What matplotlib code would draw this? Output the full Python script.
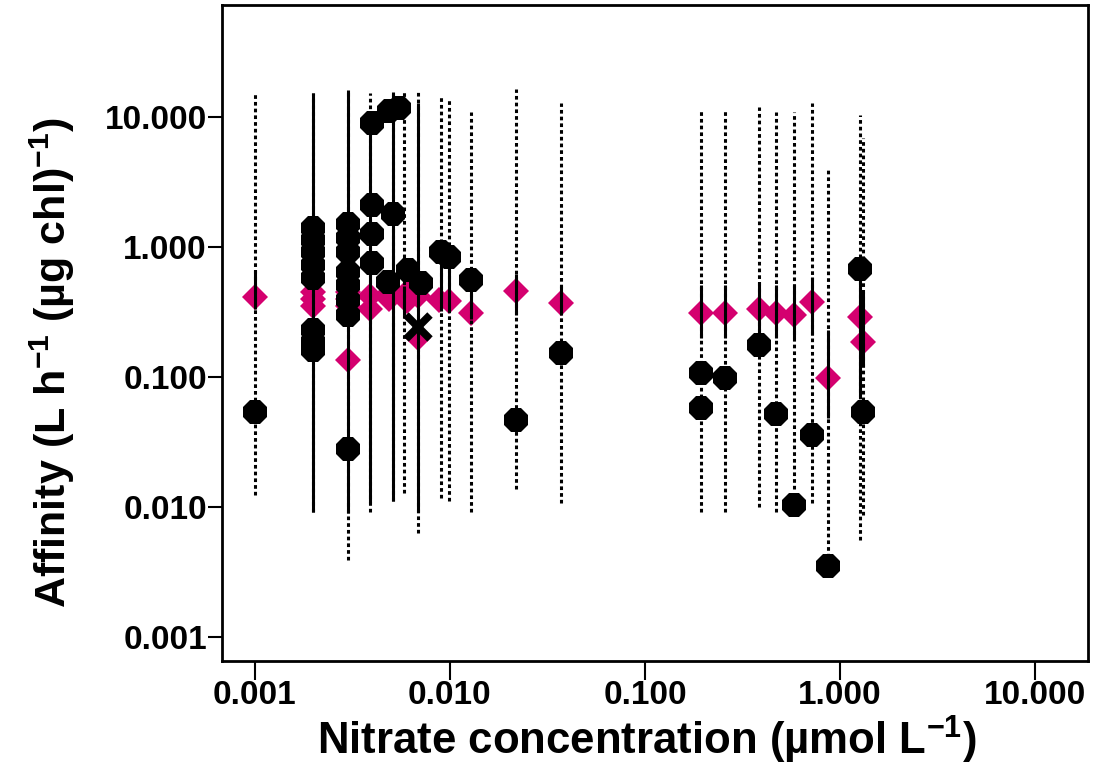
import numpy as np
import matplotlib.pyplot as plt
from matplotlib.ticker import FixedLocator, FuncFormatter

plt.rcParams['font.family'] = ['Liberation Sans Narrow', 'Liberation Sans', 'DejaVu Sans']
plt.rcParams['font.weight'] = 'bold'
plt.rcParams['axes.labelweight'] = 'bold'
plt.rcParams['mathtext.default'] = 'regular'

# ---------------- Range lines (one per station) ----------------
line_x = [0.001, 0.002, 0.003, 0.0039, 0.0051, 0.0058, 0.0069, 0.0090, 0.0099,
          0.0129, 0.0219, 0.037, 0.193, 0.257, 0.383, 0.468, 0.578, 0.714,
          0.863, 1.26, 1.31]
dot_lo = [0.0124, 0.0092, 0.0039, 0.0092, 0.0112, 0.0128, 0.0063, 0.0118, 0.0111,
          0.0092, 0.0137, 0.0108, 0.0092, 0.0092, 0.0099, 0.0092, 0.0137, 0.0108,
          0.0041, 0.0056, 0.0087]
dot_hi = [15.0, 15.3, 16.1, 15.3, 15.6, 15.6, 16.1, 14.2, 13.5,
          10.9, 16.4, 12.8, 11.5, 11.5, 11.9, 10.9, 10.9, 12.8,
          3.9, 10.4, 6.9]
sol_lo = [0.33, 0.0092, 0.0090, 0.0108, 0.0112, 0.30, 0.0092, 0.32, 0.32,
          0.28, 0.30, 0.30, 0.20, 0.20, 0.17, 0.20, 0.20, 0.21,
          0.048, 0.071, 0.12]
sol_hi = [0.66, 15.3, 16.1, 10.9, 15.6, 0.50, 12.8, 0.90, 0.85,
          0.55, 0.62, 0.50, 0.51, 0.51, 0.54, 0.51, 0.51, 0.59,
          0.23, 0.56, 0.45]

# ---------------- Observed affinity (black) ----------------
obs_x = [0.001,
         0.002, 0.002, 0.002, 0.002, 0.002, 0.002, 0.002, 0.002,
         0.003, 0.003, 0.003, 0.003, 0.003, 0.003, 0.003, 0.003,
         0.0040, 0.0049, 0.0055, 0.0040, 0.0051, 0.0040, 0.0040, 0.0048,
         0.0061, 0.0071, 0.0090, 0.0099, 0.0129, 0.0219, 0.037,
         0.193, 0.193, 0.257, 0.383, 0.468, 0.578, 0.714, 0.863, 1.26, 1.31]
obs_y = [0.054,
         1.40, 1.13, 0.92, 0.73, 0.58, 0.23, 0.186, 0.16,
         1.50, 1.17, 0.92, 0.64, 0.51, 0.39, 0.30, 0.028,
         9.0, 11.0, 11.6, 2.1, 1.8, 1.25, 0.75, 0.54,
         0.66, 0.53, 0.91, 0.84, 0.56, 0.047, 0.152,
         0.107, 0.058, 0.098, 0.176, 0.052, 0.0103, 0.036, 0.0035, 0.68, 0.054]

# ---------------- Model affinity (magenta) ----------------
mod_x = [0.001, 0.002, 0.002, 0.002, 0.003, 0.003, 0.003, 0.003,
         0.0039, 0.0039, 0.0049, 0.0049, 0.0060, 0.0060, 0.0069, 0.0069,
         0.0088, 0.0099, 0.0129, 0.0219, 0.037,
         0.193, 0.257, 0.383, 0.468, 0.578, 0.714, 0.863, 1.26, 1.31]
mod_y = [0.41, 0.45, 0.40, 0.35, 0.45, 0.40, 0.35, 0.135,
         0.42, 0.33, 0.44, 0.40, 0.45, 0.38, 0.42, 0.20,
         0.39, 0.38, 0.31, 0.46, 0.37,
         0.31, 0.31, 0.33, 0.31, 0.30, 0.375, 0.098, 0.29, 0.186]

# ---------------- Outlier ----------------
out_x = [0.0069]
out_y = [0.24]

magenta = '#d4006f'

fig = plt.figure(figsize=(11.08, 7.68), dpi=100)
ax = fig.add_axes([0.2004, 0.1393, 0.7816, 0.8542])

ax.plot(mod_x, mod_y, linestyle='none', marker='D', markersize=13.5,
        color=magenta, markeredgewidth=0, zorder=2)
ax.vlines(line_x, dot_lo, dot_hi, colors='black', linestyles=(0, (1.2, 1.0)),
          linewidth=2.2, zorder=3)
ax.vlines(line_x, sol_lo, sol_hi, colors='black', linestyles='solid',
          linewidth=2.2, zorder=3)
ax.plot(obs_x, obs_y, linestyle='none', marker='8', markersize=18,
        color='black', markeredgewidth=0, zorder=4)
ax.plot(out_x, out_y, linestyle='none', marker='x', markersize=17,
        color='black', markeredgewidth=5.5, zorder=5)

ax.set_xscale('log')
ax.set_yscale('log')
ax.set_xlim(10 ** -3.167, 10 ** 1.27)
ax.set_ylim(10 ** -3.185, 10 ** 1.86)

ticks = [0.001, 0.01, 0.1, 1, 10]
fmt = FuncFormatter(lambda v, p: '%.3f' % v)
ax.xaxis.set_major_locator(FixedLocator(ticks))
ax.yaxis.set_major_locator(FixedLocator(ticks))
ax.xaxis.set_major_formatter(fmt)
ax.yaxis.set_major_formatter(fmt)
ax.minorticks_off()

ax.tick_params(axis='x', direction='out', length=14, width=1.5, labelsize=24, pad=0)
ax.tick_params(axis='y', direction='out', length=10, width=1.5, labelsize=24, pad=1)
for s in ax.spines.values():
    s.set_linewidth(2)

ax.set_xlabel('Nitrate concentration (µmol L$^{-1}$)', fontsize=31.5, fontweight='bold')
ax.set_ylabel('Affinity (L h$^{-1}$ (µg chl)$^{-1}$)', fontsize=31, fontweight='bold')
ax.xaxis.set_label_coords(0.49, -0.08)
ax.yaxis.set_label_coords(-0.168, 0.455)

fig.savefig('out.png', dpi=100)
